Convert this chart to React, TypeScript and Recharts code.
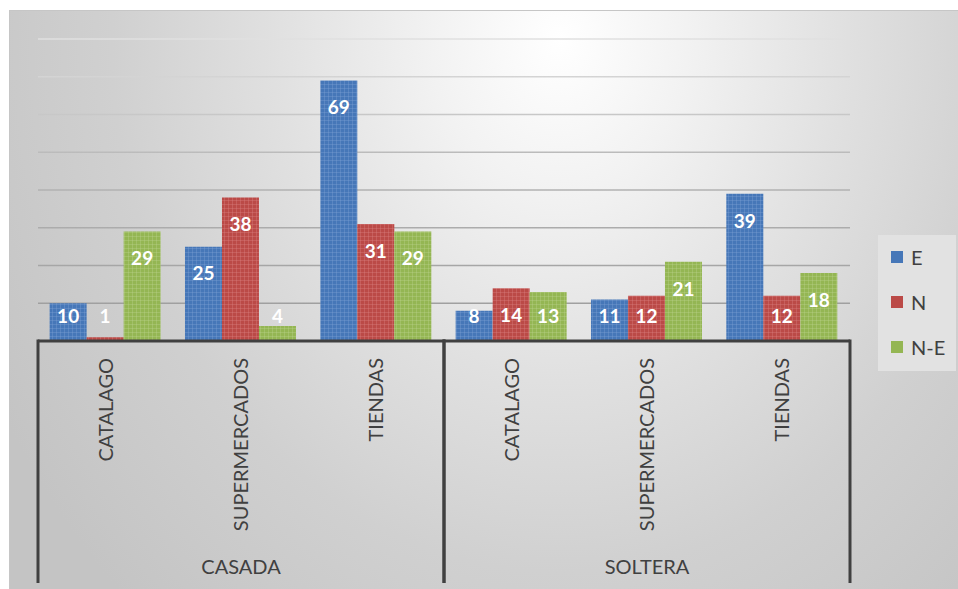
import React from "react";
import {
  BarChart,
  Bar,
  XAxis,
  YAxis,
  CartesianGrid,
  Legend,
  LabelList,
} from "recharts";

const FONT = "Lato, Calibri, 'Open Sans', sans-serif";

// estado civil (nivel 2) y canal de compra (nivel 1)
const estadoCivil = ["CASADA", "CASADA", "CASADA", "SOLTERA", "SOLTERA", "SOLTERA"];
const canales = ["CATALAGO", "SUPERMERCADOS", "TIENDAS", "CATALAGO", "SUPERMERCADOS", "TIENDAS"];

const serieE = [10, 25, 69, 8, 11, 39];
const serieN = [1, 38, 31, 14, 12, 12];
const serieNE = [29, 4, 29, 13, 21, 18];

const yTicks = [0, 10, 20, 30, 40, 50, 60, 70, 80];

const SERIES = [
  { key: "E", name: "E", color: "#4677b8", light: "#7fa3d4" },
  { key: "N", name: "N", color: "#bb4a47", light: "#d98482" },
  { key: "NE", name: "N-E", color: "#94b653", light: "#bcd48e" },
];

const data = canales.map((canal, i) => ({
  canal,
  grupo: estadoCivil[i],
  E: serieE[i],
  N: serieN[i],
  NE: serieNE[i],
}));

// tamaño del grafico
const W = 958;
const H = 589;
const MARGIN = { top: 39, right: 108, bottom: 6, left: 38 };
const CANAL_AXIS_H = 196;
const GRUPO_AXIS_H = 46;
const PLOT_W = W - MARGIN.left - MARGIN.right;
const N_GRUPOS = new Set(estadoCivil).size;

const BarValue = (props: any) => {
  const { x, y, width, height, value } = props;
  const bottom = y + height;
  const cy = Math.min(y + 27, bottom - 25);
  return (
    <text
      x={x + width / 2}
      y={cy}
      dy="0.36em"
      textAnchor="middle"
      fill="#ffffff"
      fontSize={19}
      fontWeight={700}
      fontFamily={FONT}
    >
      {value}
    </text>
  );
};

const CanalTick = ({ x, y, payload }: any) => (
  <text
    transform={`translate(${x},${y + 17}) rotate(-90)`}
    textAnchor="end"
    dy="0.35em"
    fill="#404040"
    fontSize={20}
    fontFamily={FONT}
  >
    {payload.value}
  </text>
);

// etiqueta del grupo + lineas verticales en los bordes del grupo
const GrupoTick = ({ x, y, payload }: any) => {
  const half = PLOT_W / N_GRUPOS / 2;
  const top = y - CANAL_AXIS_H - 1.5;
  const bottom = y + GRUPO_AXIS_H;
  return (
    <g>
      <line x1={x - half} x2={x - half} y1={top} y2={bottom} stroke="#404040" strokeWidth={3} />
      <line x1={x + half} x2={x + half} y1={top} y2={bottom} stroke="#404040" strokeWidth={3} />
      <text
        x={x}
        y={y + 30}
        dy="0.35em"
        textAnchor="middle"
        fill="#404040"
        fontSize={20}
        fontFamily={FONT}
      >
        {payload.value}
      </text>
    </g>
  );
};

const renderLegend = () => (
  <div
    style={{
      width: 78,
      height: 136,
      background: "#e2e2e2",
      position: "relative",
      fontFamily: FONT,
    }}
  >
    {SERIES.map((s, i) => (
      <div
        key={s.key}
        style={{
          position: "absolute",
          left: 13,
          top: 22 + i * 45 - 12,
          height: 24,
          display: "flex",
          alignItems: "center",
        }}
      >
        <span
          style={{
            display: "inline-block",
            width: 12,
            height: 12,
            background: s.color,
            marginRight: 8,
          }}
        />
        <span style={{ fontSize: 20, color: "#404040" }}>{s.name}</span>
      </div>
    ))}
  </div>
);

export default function App() {
  return (
    <div
      style={{
        position: "absolute",
        left: 0,
        top: 0,
        width: W,
        height: H,
        background: "#ffffff",
        overflow: "hidden",
      }}
    >
      <div
        style={{
          position: "absolute",
          left: 9,
          top: 10,
          right: 0,
          bottom: 0,
          borderTop: "1px solid #c6c6c6",
          borderLeft: "1px solid #c6c6c6",
          background:
            "radial-gradient(ellipse 640px 760px at 58% 5%, #ffffff 0%, #f2f2f2 20%, #e0e0e0 45%, #d0d0d0 70%, #c4c4c4 100%)",
        }}
      />
      <div style={{ position: "absolute", left: 0, top: 0 }}>
        <BarChart
          width={W}
          height={H}
          data={data}
          margin={MARGIN}
          barCategoryGap="8.6%"
          barGap={0}
        >
          <defs>
            <linearGradient id="gridGrad" gradientUnits="userSpaceOnUse" x1="0" y1="39" x2="0" y2="340">
              <stop offset="0%" stopColor="#e0e0e0" />
              <stop offset="45%" stopColor="#b4b4b4" />
              <stop offset="100%" stopColor="#9a9a9a" />
            </linearGradient>
            {SERIES.map((s) => (
              <pattern
                key={s.key}
                id={`pat${s.key}`}
                patternUnits="userSpaceOnUse"
                width={4}
                height={4}
              >
                <rect width={4} height={4} fill={s.color} />
                <rect x={0} y={0} width={4} height={1} fill={s.light} opacity={0.35} />
                <rect x={0} y={0} width={1} height={4} fill={s.light} opacity={0.35} />
              </pattern>
            ))}
          </defs>
          <CartesianGrid
            vertical={false}
            stroke="url(#gridGrad)"
            strokeWidth={1.6}
          />
          <XAxis
            xAxisId="canal"
            dataKey="canal"
            interval={0}
            height={CANAL_AXIS_H}
            tickLine={false}
            tickSize={0}
            tickMargin={0}
            axisLine={{ stroke: "#404040", strokeWidth: 3 }}
            tick={<CanalTick />}
          />
          <XAxis
            xAxisId="grupo"
            dataKey="grupo"
            allowDuplicatedCategory={false}
            interval={0}
            height={GRUPO_AXIS_H}
            tickLine={false}
            tickSize={0}
            tickMargin={0}
            axisLine={false}
            tick={<GrupoTick />}
          />
          <YAxis hide domain={[0, 80]} ticks={yTicks} />
          <Legend
            layout="horizontal"
            verticalAlign="middle"
            align="center"
            content={renderLegend}
            wrapperStyle={{ left: 878, top: 235, width: 78, height: 136 }}
          />
          {SERIES.map((s) => (
            <Bar
              key={s.key}
              xAxisId="canal"
              dataKey={s.key}
              name={s.name}
              fill={`url(#pat${s.key})`}
              isAnimationActive={false}
            >
              <LabelList dataKey={s.key} content={<BarValue />} />
            </Bar>
          ))}
        </BarChart>
      </div>
    </div>
  );
}
